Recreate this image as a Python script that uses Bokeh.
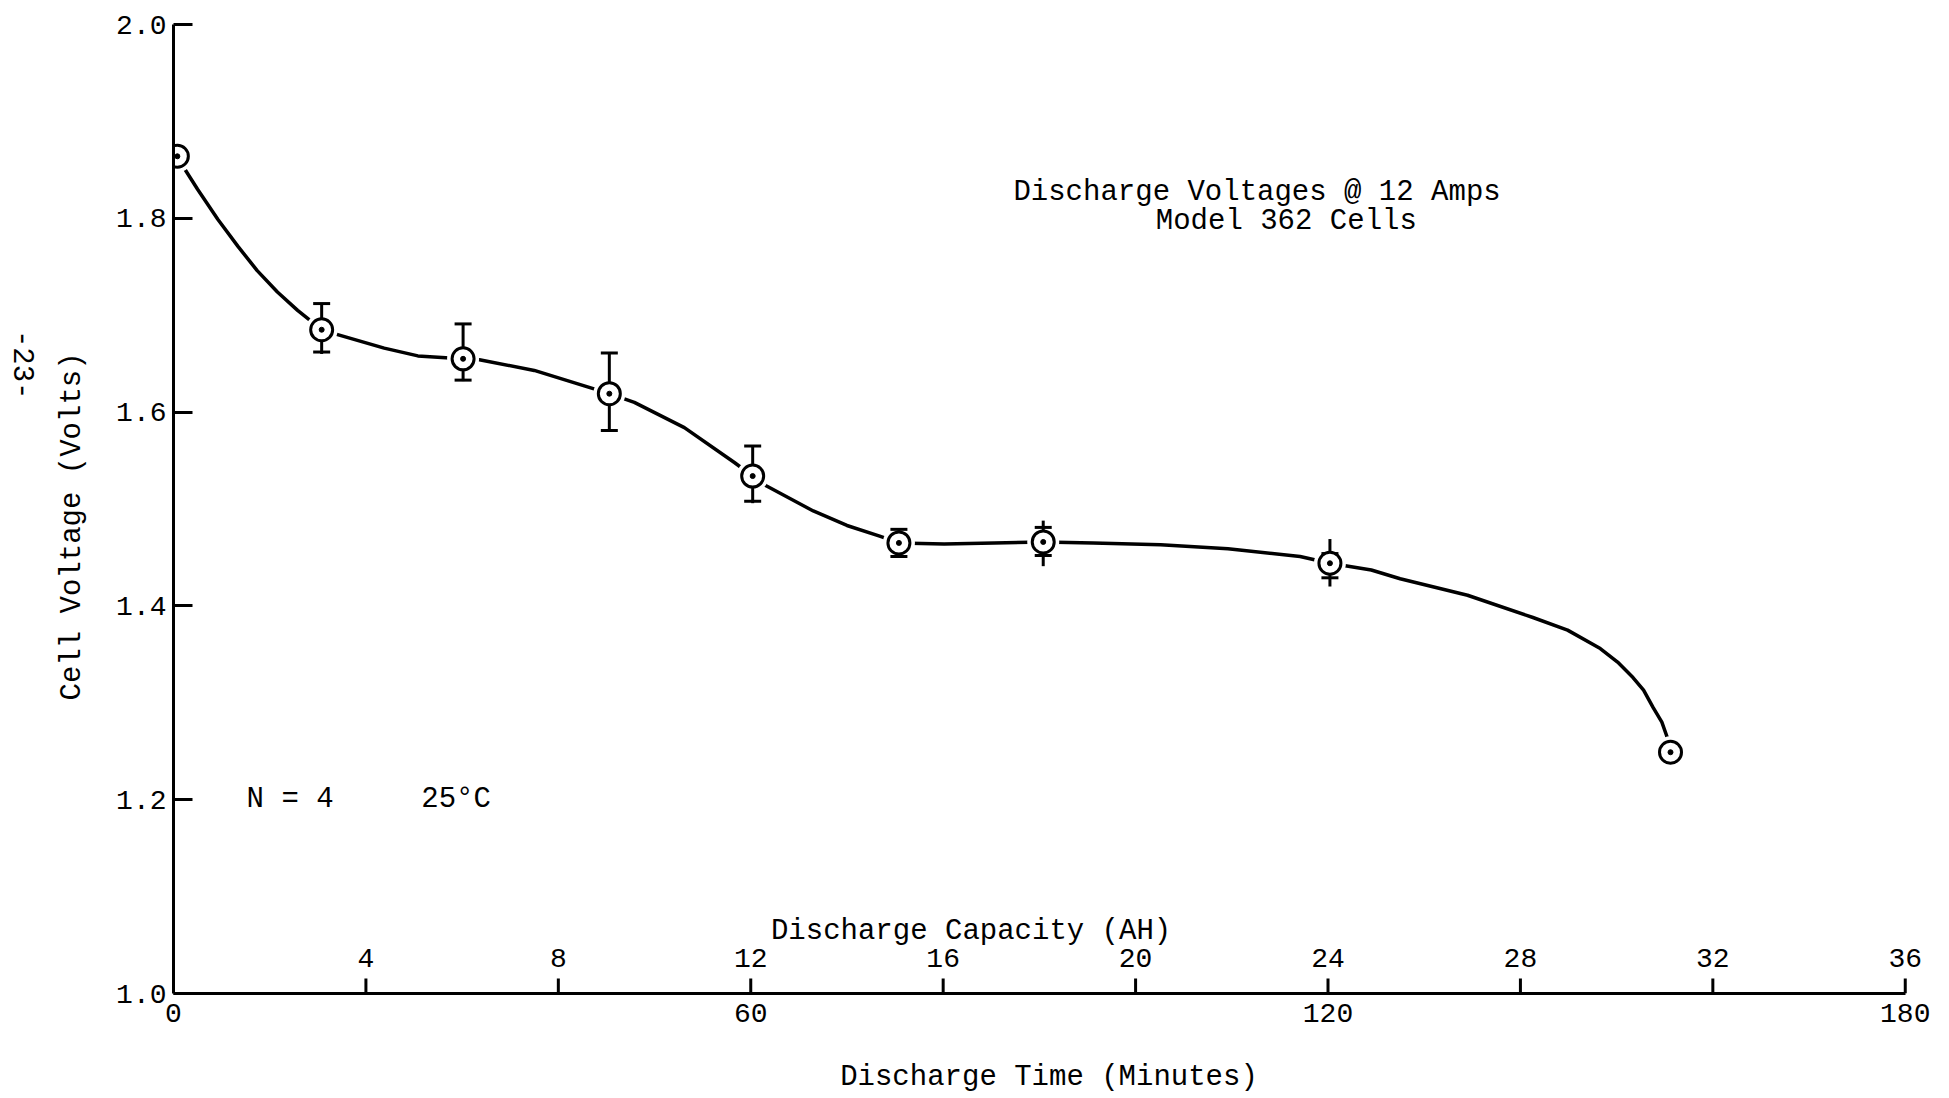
import math
from bokeh.plotting import figure
from bokeh.models import (Range1d, FixedTicker, Label, LabelSet, ColumnDataSource,
                          LinearAxis)
from bokeh.core.properties import value
from bokeh.embed import file_html
from bokeh.resources import INLINE

FONT = "Liberation Mono"
FS = "28px"
FS_TEXT = "29px"
NBSP = "\u00a0"

# ---- data ----
time_min = [0.4, 15.4, 30.1, 45.3, 60.2, 75.4, 90.4, 120.2, 155.6]
volts = [1.864, 1.685, 1.655, 1.619, 1.534, 1.465, 1.466, 1.444, 1.249]

err_time = [15.4, 30.1, 45.3, 60.2, 75.4, 90.4, 120.2]
err_cap_hi = [1.712, 1.691, 1.661, 1.565, 1.479, 1.481, 1.454]
err_cap_lo = [1.662, 1.633, 1.581, 1.508, 1.451, 1.452, 1.429]
err_line_hi = [1.712, 1.691, 1.661, 1.565, 1.479, 1.488, 1.469]
err_line_lo = [1.660, 1.632, 1.581, 1.506, 1.451, 1.441, 1.420]

# hand-drawn fitted curve
curve_time = [0.9, 2.5, 4.6, 6.7, 8.7, 10.8, 12.9, 15.4, 16.7, 21.9, 25.4,
              28.3, 30.1, 31.8, 37.5, 42.7, 45.3, 47.9, 53.1, 58.3, 60.2,
              61.6, 66.5, 70.0, 73.4, 75.4, 80.1, 85.3, 90.4, 95.6, 102.6,
              109.6, 117.1, 120.2, 124.5, 127.5, 134.5, 141.3, 144.9, 148.3,
              150.1, 151.7, 152.8, 153.8, 154.7, 155.2, 155.6]
curve_volts = [1.855, 1.830, 1.799, 1.771, 1.746, 1.724, 1.705, 1.685, 1.681,
               1.666, 1.658, 1.656, 1.655, 1.654, 1.643, 1.627, 1.619, 1.610,
               1.584, 1.548, 1.534, 1.524, 1.498, 1.483, 1.472, 1.465, 1.464,
               1.465, 1.466, 1.465, 1.463, 1.459, 1.451, 1.444, 1.437, 1.428,
               1.411, 1.388, 1.375, 1.356, 1.342, 1.326, 1.313, 1.295, 1.280,
               1.266, 1.249]

amps = 12
capacity_ticks_ah = [4, 8, 12, 16, 20, 24, 28, 32, 36]
capacity_tick_labels = ["4", "8", "12", "16", "20", "24", "28", "32", "36"]
time_ticks = [0, 60, 120, 180]
time_tick_labels = ["0", "60", "120", "180"]
volt_ticks = [1.0, 1.2, 1.4, 1.6, 1.8, 2.0]
volt_tick_labels = ["1.0", "1.2", "1.4", "1.6", "1.8", "2.0"]
page_number = "-23-"

# ---- figure ----
# x range runs a little past 180 so the "36" label at the axis end is not clipped;
# the axis line itself is bounded to 0..180
p = figure(width=1949, height=1098, output_backend="svg", toolbar_location=None,
           x_range=Range1d(0, 182), y_range=Range1d(1.0, 2.0),
           min_border_left=172, min_border_right=25, min_border_top=24,
           min_border_bottom=105)
p.background_fill_color = "white"
p.border_fill_color = "white"
p.outline_line_color = None
p.xgrid.visible = False
p.ygrid.visible = False

# time axis (bottom)
xa = p.xaxis[0]
xa.bounds = (0, 180)
xa.ticker = FixedTicker(ticks=time_ticks)
xa.major_label_overrides = {t: l for t, l in zip(time_ticks, time_tick_labels)}
xa.major_tick_in = 0
xa.major_tick_out = 0
xa.minor_tick_in = 0
xa.minor_tick_out = 0
xa.axis_line_width = 3
xa.axis_line_color = "black"
xa.major_label_standoff = 10
xa.major_label_text_font = FONT
xa.major_label_text_font_size = FS
xa.major_label_text_color = "black"
xa.axis_label = "Discharge Time (Minutes)"
xa.axis_label_text_font = FONT
xa.axis_label_text_font_size = FS_TEXT
xa.axis_label_text_font_style = "normal"
xa.axis_label_text_color = "black"
xa.axis_label_standoff = 36

# voltage axis (left)
ya = p.yaxis[0]
ya.ticker = FixedTicker(ticks=volt_ticks)
ya.major_label_overrides = {t: l for t, l in zip(volt_ticks, volt_tick_labels)}
ya.major_tick_in = 19
ya.major_tick_out = 0
ya.major_tick_line_width = 3
ya.major_tick_line_color = "black"
ya.minor_tick_in = 0
ya.minor_tick_out = 0
ya.axis_line_width = 3
ya.axis_line_color = "black"
ya.major_label_standoff = 7
ya.major_label_text_font = FONT
ya.major_label_text_font_size = FS
ya.major_label_text_color = "black"
ya.axis_label = "Cell Voltage (Volts)" + NBSP * 2
ya.axis_label_text_font = FONT
ya.axis_label_text_font_size = FS_TEXT
ya.axis_label_text_font_style = "normal"
ya.axis_label_text_color = "black"
ya.axis_label_standoff = 24

# page number at the far left margin, written top-to-bottom
page_y = 1.613
page_axis = LinearAxis(ticker=FixedTicker(ticks=[page_y]),
                       major_label_overrides={page_y: page_number},
                       axis_line_color=None, major_tick_in=0, major_tick_out=0,
                       minor_tick_in=0, minor_tick_out=0,
                       major_label_orientation=-math.pi / 2,
                       major_label_standoff=30,
                       major_label_text_font=FONT,
                       major_label_text_font_size=FS_TEXT,
                       major_label_text_color="black")
p.add_layout(page_axis, "left")

# capacity scale drawn on the same baseline (ticks up, labels above)
cap_x = [ah * 60 / amps for ah in capacity_ticks_ah]
p.segment(x0=cap_x, y0=[1.0] * len(cap_x), x1=cap_x, y1=[1.0155] * len(cap_x),
          line_width=3, line_color="black")
cap_src = ColumnDataSource(data=dict(x=cap_x, y=[1.037] * len(cap_x),
                                     text=capacity_tick_labels))
p.add_layout(LabelSet(x="x", y="y", text="text", source=cap_src,
                      text_align="center", text_baseline="middle",
                      text_font=value(FONT), text_font_size=value(FS),
                      text_color="black"))

# fitted curve
p.line(curve_time, curve_volts, line_width=3.5, line_color="black",
       line_join="round", line_cap="round")
# small white gaps where the curve meets the markers
p.scatter(time_min, volts, marker="circle", size=32, fill_color="white",
          line_color=None)

# error bars
p.segment(x0=err_time, y0=err_line_lo, x1=err_time, y1=err_line_hi,
          line_width=3, line_color="black")
p.scatter(err_time, err_cap_hi, marker="dash", size=17, line_width=3,
          line_color="black")
p.scatter(err_time, err_cap_lo, marker="dash", size=17, line_width=3,
          line_color="black")

# data markers (circle with a centre dot)
p.scatter(time_min, volts, marker="circle", size=22, fill_color="white",
          line_color="black", line_width=3)
p.scatter(time_min, volts, marker="circle", size=5, fill_color="black",
          line_color="black")

def lab(x, y, text, align="left"):
    p.add_layout(Label(x=x, y=y, text=text, text_align=align,
                       text_baseline="middle", text_font=FONT,
                       text_font_size=FS_TEXT, text_color="black"))

lab(87.3, 1.827, "Discharge Voltages @ 12 Amps")
lab(102.1, 1.797, "Model 362 Cells")
lab(7.6, 1.2, "N = 4")
lab(25.75, 1.2, "25°C")
lab(62.1, 1.064, "Discharge Capacity (AH)")

open("out.html", "w").write(file_html(p, INLINE))
